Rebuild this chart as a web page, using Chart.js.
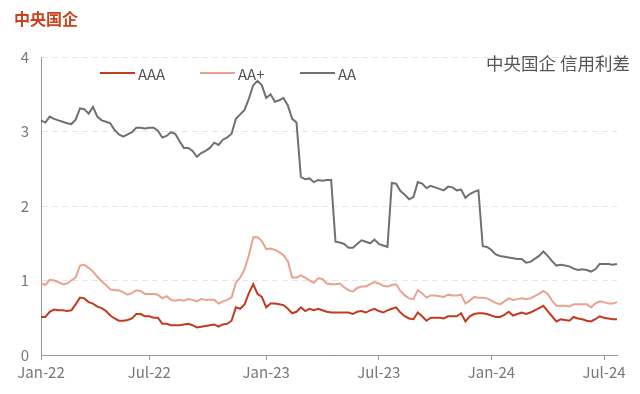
<!DOCTYPE html>
<html>
<head>
<meta charset="utf-8">
<script src="https://cdn.jsdelivr.net/npm/chart.js@4.4.1/dist/chart.umd.min.js"></script>
<style>
  body { margin: 0; background: #fff; }
  #wrap { position: relative; width: 640px; height: 394px; font-family: "Noto Sans CJK SC", "Noto Sans", sans-serif; }
  #c { position: absolute; left: 0; top: 0; }
  .title { position: absolute; left: 14px; top: 9px; font-size: 16px; line-height: 18px; font-weight: bold; color: #C8421E; }
  .cap { position: absolute; right: 10px; top: 53px; font-size: 17.5px; line-height: 20px; color: #555; }
  .lg { position: absolute; top: 63px; height: 20px; display: flex; align-items: center; font-size: 15px; color: #555; }
  .lg span.sw { display: inline-block; width: 35px; height: 2px; margin-right: 3px; }
</style>
</head>
<body>
<div id="wrap">
  <canvas id="c" width="640" height="394"></canvas>
  <div class="title">中央国企</div>
  <div class="cap">中央国企 信用利差</div>
  <div class="lg" style="left:100px"><span class="sw" style="background:#C23B1E"></span>AAA</div>
  <div class="lg" style="left:200px"><span class="sw" style="background:#E9A291"></span>AA+</div>
  <div class="lg" style="left:300px"><span class="sw" style="background:#707070"></span>AA</div>
</div>
<script>
// Weekly observation dates (first week of 2022 to late July 2024)
const startDate = '2022-01-07';
const weekCount = 134;
const categories = [];
for (let i = 0; i < weekCount; i++) {
  const d = new Date(startDate + 'T00:00:00Z');
  d.setUTCDate(d.getUTCDate() + 7 * i);
  categories.push(d.toISOString().slice(0, 10));
}
const monthNames = ['Jan','Feb','Mar','Apr','May','Jun','Jul','Aug','Sep','Oct','Nov','Dec'];
const tickMonths = [0, 6]; // Jan and Jul

const seriesNames = ['AAA', 'AA+', 'AA'];

const aaa = [0.51,0.51,0.58,0.61,0.60,0.60,0.59,0.60,0.68,0.77,0.76,0.71,0.69,0.65,0.63,0.59,0.53,0.49,0.46,0.46,
  0.47,0.49,0.55,0.55,0.52,0.52,0.50,0.50,0.42,0.42,0.40,0.40,0.40,0.41,0.42,0.40,0.37,0.38,0.39,0.40,
  0.41,0.38,0.41,0.42,0.46,0.64,0.62,0.68,0.83,0.95,0.82,0.78,0.64,0.69,0.69,0.68,0.67,0.62,0.56,0.58,
  0.64,0.59,0.62,0.60,0.62,0.60,0.58,0.57,0.57,0.57,0.57,0.57,0.55,0.58,0.59,0.57,0.60,0.62,0.59,0.57,
  0.60,0.62,0.64,0.57,0.52,0.49,0.48,0.57,0.52,0.46,0.50,0.50,0.50,0.49,0.52,0.52,0.52,0.56,0.45,0.52,
  0.55,0.56,0.56,0.55,0.53,0.51,0.51,0.54,0.58,0.53,0.55,0.57,0.55,0.57,0.60,0.63,0.66,0.59,0.52,0.45,
  0.48,0.47,0.46,0.51,0.49,0.48,0.46,0.45,0.48,0.52,0.50,0.49,0.48,0.48];

const aaPlus = [0.96,0.94,1.01,1.00,0.98,0.95,0.96,1.00,1.04,1.20,1.21,1.17,1.12,1.05,0.99,0.94,0.88,0.87,0.87,0.84,
  0.81,0.83,0.87,0.86,0.82,0.82,0.82,0.81,0.76,0.79,0.74,0.73,0.74,0.73,0.75,0.74,0.72,0.75,0.74,0.74,
  0.74,0.69,0.72,0.74,0.77,0.97,1.04,1.15,1.34,1.58,1.58,1.53,1.42,1.43,1.41,1.38,1.34,1.26,1.04,1.04,
  1.07,1.04,1.00,0.97,1.03,1.02,0.96,0.95,0.95,0.96,0.91,0.87,0.85,0.90,0.92,0.92,0.95,0.98,0.96,0.93,
  0.92,0.94,0.95,0.86,0.80,0.76,0.75,0.87,0.83,0.77,0.80,0.80,0.79,0.78,0.81,0.80,0.80,0.81,0.69,0.73,
  0.78,0.77,0.77,0.76,0.73,0.70,0.68,0.72,0.76,0.74,0.75,0.76,0.75,0.76,0.79,0.82,0.86,0.82,0.73,0.66,
  0.66,0.66,0.65,0.68,0.68,0.68,0.68,0.64,0.69,0.72,0.71,0.69,0.69,0.71];

const aa = [3.15,3.12,3.20,3.17,3.15,3.13,3.11,3.10,3.16,3.31,3.30,3.24,3.33,3.20,3.15,3.13,3.11,3.02,2.96,2.93,
  2.96,2.99,3.05,3.05,3.04,3.05,3.05,3.01,2.92,2.94,2.99,2.97,2.87,2.78,2.78,2.74,2.66,2.71,2.74,2.78,
  2.85,2.82,2.89,2.92,2.97,3.17,3.23,3.29,3.44,3.62,3.68,3.62,3.45,3.50,3.40,3.42,3.45,3.35,3.17,3.12,
  2.39,2.36,2.37,2.32,2.35,2.34,2.35,2.35,1.52,1.51,1.49,1.44,1.44,1.49,1.54,1.52,1.50,1.55,1.49,1.47,
  1.45,2.31,2.30,2.20,2.15,2.09,2.12,2.32,2.30,2.24,2.27,2.25,2.23,2.21,2.26,2.25,2.21,2.22,2.11,2.16,
  2.19,2.21,1.46,1.45,1.41,1.35,1.33,1.32,1.31,1.30,1.29,1.29,1.24,1.25,1.29,1.33,1.39,1.33,1.26,1.20,
  1.21,1.20,1.19,1.16,1.14,1.15,1.14,1.12,1.15,1.22,1.22,1.22,1.21,1.22];

const yTicks = [0, 1, 2, 3, 4];

function isTickDate(s) {
  const m = parseInt(s.slice(5, 7), 10) - 1;
  const d = parseInt(s.slice(8, 10), 10);
  return tickMonths.includes(m) && d <= 7;
}
function fmtDate(s) {
  const m = parseInt(s.slice(5, 7), 10) - 1;
  return monthNames[m] + '-' + s.slice(2, 4);
}

const FONT = '"Noto Sans CJK SC", "Noto Sans", sans-serif';

new Chart(document.getElementById('c'), {
  type: 'line',
  data: {
    labels: categories,
    datasets: [
      { label: seriesNames[0], data: aaa, borderColor: '#C23B1E', borderWidth: 2, pointRadius: 0, tension: 0 },
      { label: seriesNames[1], data: aaPlus, borderColor: '#E9A291', borderWidth: 2, pointRadius: 0, tension: 0 },
      { label: seriesNames[2], data: aa, borderColor: '#707070', borderWidth: 2, pointRadius: 0, tension: 0 }
    ]
  },
  options: {
    responsive: false,
    animation: false,
    devicePixelRatio: 1,
    layout: { padding: { top: 57, right: 23, bottom: 0, left: 0 } },
    plugins: { legend: { display: false }, title: { display: false }, tooltip: { enabled: false } },
    scales: {
      x: {
        type: 'category',
        offset: false,
        afterBuildTicks: (scale) => {
          scale.ticks = scale.ticks.filter(t => isTickDate(categories[t.value]));
        },
        afterFit: (scale) => { scale.height = 39; },
        grid: { drawOnChartArea: false, drawTicks: true, tickLength: 5, color: '#999' },
        border: { display: true, color: '#999', width: 1 },
        ticks: {
          autoSkip: false, maxRotation: 0, minRotation: 0, padding: 3,
          color: '#777', font: { family: FONT, size: 15 },
          callback: function (value) { return fmtDate(categories[value]); }
        }
      },
      y: {
        min: 0, max: 4,
        afterBuildTicks: (scale) => { scale.ticks = yTicks.map(v => ({ value: v })); },
        afterFit: (scale) => { scale.width = 41; },
        grid: { drawTicks: false, color: '#e6e6e6' },
        border: { display: true, color: '#999', width: 1, dash: [6, 4] },
        ticks: { padding: 12, color: '#777', font: { family: FONT, size: 15 } }
      }
    }
  }
});
</script>
</body>
</html>
